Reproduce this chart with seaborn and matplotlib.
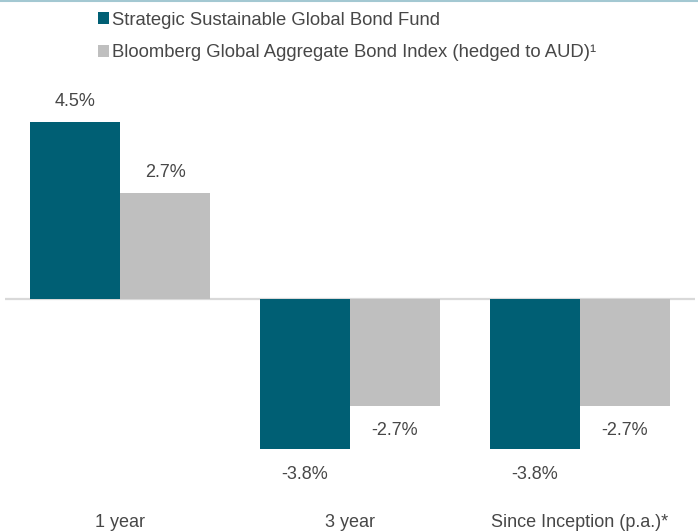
import matplotlib
matplotlib.use("Agg")
import matplotlib.pyplot as plt
from matplotlib.lines import Line2D
import pandas as pd
import seaborn as sns

# Performance figures (%)
periods = ["1 year", "3 year", "Since Inception (p.a.)*"]
series_names = [
    "Strategic Sustainable Global Bond Fund",
    "Bloomberg Global Aggregate Bond Index (hedged to AUD)\u00b9",
]
fund_returns = [4.5, -3.8, -3.8]
index_returns = [2.7, -2.7, -2.7]

colors = ["#005F74", "#BFBFBF"]
text_color = "#474747"
fs = 13

df = pd.DataFrame({
    "period": periods * 2,
    "series": [series_names[0]] * 3 + [series_names[1]] * 3,
    "value": fund_returns + index_returns,
})

sns.set_theme(style="white")
plt.rcParams["font.family"] = ["Liberation Sans", "DejaVu Sans"]

fig = plt.figure(figsize=(6.98, 5.32), dpi=100)
ax = fig.add_axes([5 / 698, 32 / 532, 690 / 698, 420 / 532])

sns.barplot(
    data=df, x="period", y="value", hue="series",
    palette=colors, width=0.783, saturation=1, ax=ax,
    linewidth=0, errorbar=None,
)

ax.set_xlim(-0.5, 2.5)
ax.set_ylim(-5.09, 5.571)
ax.axhline(0, color="#D9D9D9", lw=1.6, zorder=0.5)

# value labels
for container in ax.containers:
    for bar in container:
        v = bar.get_height()
        x = bar.get_x() + bar.get_width() / 2
        off = 15 if v >= 0 else -18
        ax.annotate(f"{v:.1f}%", (x, v), xytext=(0, off),
                    textcoords="offset points", ha="center", va="center",
                    fontsize=fs, color=text_color)

ax.set_xlabel("")
ax.set_ylabel("")
ax.set_yticks([])
ax.tick_params(axis="x", length=0, pad=10, labelsize=fs, labelcolor=text_color)
for s in ax.spines.values():
    s.set_visible(False)

# legend
handles, labels = ax.get_legend_handles_labels()
ax.legend_.remove()
fig.legend(handles, labels, loc="upper left",
           bbox_to_anchor=(94 / 698, 1 - 8 / 532), bbox_transform=fig.transFigure,
           frameon=False, fontsize=13.3, labelcolor=text_color,
           handlelength=0.6, handleheight=0.6, handletextpad=0.15,
           labelspacing=0.85, borderpad=0.2, borderaxespad=0)

# thin rule along the top edge
fig.add_artist(Line2D([0, 1], [1 - 0.8 / 532, 1 - 0.8 / 532],
                      transform=fig.transFigure, color="#A3C8D2", lw=1.5))

fig.savefig("out.png", dpi=100)
